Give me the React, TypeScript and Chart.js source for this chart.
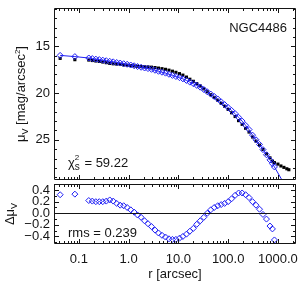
import React, { useEffect, useRef } from "react";
import { Chart, registerables } from "chart.js";

Chart.register(...registerables);

// ---- data ----
const radii = [
  0.042, 0.083, 0.158, 0.186, 0.219, 0.257, 0.302, 0.355, 0.417, 0.49, 0.575, 0.676, 0.794, 0.933,
  1.1, 1.29, 1.51, 1.78, 2.09, 2.45, 2.88, 3.39, 3.98, 4.68, 5.5, 6.46, 7.59, 8.91, 10.5, 12.3,
  14.5, 17.0, 20.0, 23.4, 27.5, 32.4, 38.0, 44.7, 52.5, 61.7, 72.4, 85.1, 100, 117, 138, 162, 191,
  224, 263, 309, 363, 427, 501, 589, 692, 776, 851,
];
const modelMu = [
  15.97, 16.1, 16.25, 16.31, 16.37, 16.42, 16.48, 16.54, 16.6, 16.66, 16.73, 16.79, 16.86, 16.92,
  17.0, 17.08, 17.16, 17.24, 17.32, 17.38, 17.46, 17.56, 17.67, 17.77, 17.87, 17.99, 18.11, 18.23,
  18.35, 18.48, 18.65, 18.83, 19.0, 19.18, 19.37, 19.62, 19.86, 20.11, 20.36, 20.63, 20.94, 21.24,
  21.55, 21.86, 22.2, 22.6, 23.0, 23.45, 23.9, 24.5, 25.0, 25.5, 26.05, 26.6, 27.15, 27.55, 27.9,
];
const observedMu = [
  16.29, 16.43, 16.47, 16.52, 16.57, 16.62, 16.68, 16.75, 16.83, 16.87, 16.9, 16.93, 16.99, 17.02,
  17.06, 17.1, 17.13, 17.17, 17.19, 17.2, 17.23, 17.27, 17.33, 17.39, 17.46, 17.55, 17.66, 17.78,
  17.92, 18.08, 18.29, 18.52, 18.74, 18.99, 19.24, 19.55, 19.86, 20.17, 20.46, 20.76, 21.09, 21.41,
  21.75, 22.11, 22.51, 22.95, 23.35, 23.77, 24.17, 24.7, 25.14, 25.57, 26.03, 26.5, 26.93, 27.28,
  27.44,
];
const residuals = [
  0.32, 0.33, 0.22, 0.21, 0.2, 0.2, 0.2, 0.21, 0.23, 0.21, 0.17, 0.14, 0.13, 0.1, 0.06, 0.02, -0.03,
  -0.07, -0.13, -0.18, -0.23, -0.29, -0.34, -0.38, -0.41, -0.44, -0.45, -0.45, -0.43, -0.4, -0.36,
  -0.31, -0.26, -0.19, -0.13, -0.07, 0.0, 0.06, 0.1, 0.13, 0.15, 0.17, 0.2, 0.25, 0.31, 0.35, 0.35,
  0.32, 0.27, 0.2, 0.14, 0.07, -0.02, -0.1, -0.22, -0.27, -0.46,
];
const outerRadii = [1000, 1150, 1320, 1510, 1660];
const outerObservedMu = [27.6, 27.8, 27.95, 28.1, 28.2];
const modelTailR = [1300];
const modelTailMu = [29.6];

const xTickValues = [0.1, 1, 10, 100, 1000];
const xTickLabels = ["0.1", "1.0", "10.0", "100.0", "1000.0"];
const muTickValues = [15, 20, 25];
const muTickLabels = ["15", "20", "25"];
const dTickValues = [0.4, 0.2, 0, -0.2, -0.4];
const dTickLabels = ["0.4", "0.2", "0.0", "\u22120.2", "\u22120.4"];
const galaxyName = "NGC4486";
const chi2Value = "59.22";
const rmsValue = "0.239";

const X_MIN = 0.0316;
const X_MAX = 2310;
const MU_MIN = 10.9;
const MU_MAX = 29.3;
const D_MIN = -0.53;
const D_MAX = 0.505;

const FONT = '"Liberation Sans", Arial, sans-serif';
const FG = "#151515";
const BLUE = "rgb(30,30,245)";

function labelFor(values: number[], labels: string[], v: number) {
  const i = values.findIndex((t) => Math.abs(t - v) < 1e-9 * Math.max(1, Math.abs(t)));
  return i >= 0 ? labels[i] : "";
}

function zeroPad(ax: any) {
  ax.paddingTop = 0;
  ax.paddingBottom = 0;
  ax.paddingLeft = 0;
  ax.paddingRight = 0;
}

function drawFrame(chart: any, yTicks: { v: number; major: boolean }[], zero: boolean) {
  const { ctx, chartArea: a, scales } = chart;
  const xs = scales.x;
  const ys = scales.y;
  ctx.save();
  ctx.strokeStyle = FG;
  ctx.lineWidth = 1;
  ctx.beginPath();
  ctx.rect(a.left + 0.5, a.top + 0.5, a.right - a.left - 1, a.bottom - a.top - 1);
  for (let e = -2; e <= 3; e++) {
    for (let k = 1; k <= 9; k++) {
      const v = k * Math.pow(10, e);
      if (v < X_MIN || v > X_MAX) continue;
      const px = Math.round(xs.getPixelForValue(v)) + 0.5;
      const len = k === 1 ? 5 : 3;
      ctx.moveTo(px, a.bottom);
      ctx.lineTo(px, a.bottom - len);
      ctx.moveTo(px, a.top);
      ctx.lineTo(px, a.top + len);
    }
  }
  for (const t of yTicks) {
    const py = Math.round(ys.getPixelForValue(t.v)) + 0.5;
    const len = t.major ? 5 : 3;
    ctx.moveTo(a.left, py);
    ctx.lineTo(a.left + len, py);
    ctx.moveTo(a.right, py);
    ctx.lineTo(a.right - len, py);
  }
  if (zero) {
    const pz = Math.round(ys.getPixelForValue(0)) + 0.5;
    ctx.moveTo(a.left, pz);
    ctx.lineTo(a.right, pz);
  }
  ctx.stroke();
  ctx.restore();
}

type Part = { t: string; size: number; dy: number };

// draws a rotated (bottom-to-top) rich label centred on (cx, cy)
function drawVerticalRich(ctx: CanvasRenderingContext2D, parts: Part[], cx: number, cy: number) {
  const widths: number[] = [];
  let w = 0;
  for (const p of parts) {
    ctx.font = `${p.size}px ${FONT}`;
    const m = ctx.measureText(p.t).width;
    widths.push(m);
    w += m;
  }
  ctx.save();
  ctx.textAlign = "left";
  ctx.textBaseline = "alphabetic";
  ctx.setTransform(0, -1, 1, 0, cx, cy);
  let x = -w / 2;
  parts.forEach((p, i) => {
    ctx.font = `${p.size}px ${FONT}`;
    ctx.fillText(p.t, x, p.dy);
    x += widths[i];
  });
  ctx.restore();
}

const muTicks: { v: number; major: boolean }[] = [];
for (let v = 11; v <= 29; v++) muTicks.push({ v, major: v % 5 === 0 });
const dTicks: { v: number; major: boolean }[] = [];
for (let i = -5; i <= 5; i++) dTicks.push({ v: i / 10, major: i % 2 === 0 });

const topPlugin = {
  id: "topDecor",
  afterDraw(chart: any) {
    drawFrame(chart, muTicks, false);
    const ctx: CanvasRenderingContext2D = chart.ctx;
    ctx.save();
    ctx.fillStyle = FG;
    ctx.textBaseline = "alphabetic";
    ctx.textAlign = "right";
    ctx.font = `13px ${FONT}`;
    ctx.fillText(galaxyName, 287, 32);
    ctx.textAlign = "left";
    ctx.font = `13px ${FONT}`;
    ctx.fillText("\u03c7", 68, 167);
    const cw = ctx.measureText("\u03c7").width;
    ctx.font = `8px ${FONT}`;
    ctx.fillText("2", 68 + cw, 160);
    ctx.font = `10px ${FONT}`;
    ctx.fillText("s", 68 + cw, 170);
    const sw = ctx.measureText("s").width;
    ctx.font = `13px ${FONT}`;
    ctx.fillText(" = " + chi2Value, 68 + cw + sw + 1, 167);
    drawVerticalRich(
      ctx,
      [
        { t: "\u03bc", size: 13, dy: 0 },
        { t: "V", size: 9, dy: 3 },
        { t: " [mag/arcsec", size: 13, dy: 0 },
        { t: "2", size: 8, dy: -5 },
        { t: "]", size: 13, dy: 0 },
      ],
      25,
      94
    );
    ctx.restore();
  },
};

const bottomPlugin = {
  id: "bottomDecor",
  afterDraw(chart: any) {
    drawFrame(chart, dTicks, true);
    const ctx: CanvasRenderingContext2D = chart.ctx;
    ctx.save();
    ctx.fillStyle = FG;
    ctx.textBaseline = "alphabetic";
    ctx.textAlign = "left";
    ctx.font = `13px ${FONT}`;
    ctx.fillText("rms = " + rmsValue, 68, 55);
    ctx.textAlign = "center";
    ctx.fillText("r [arcsec]", 175, 95.5);
    drawVerticalRich(
      ctx,
      [
        { t: "\u0394\u03bc", size: 13, dy: 0 },
        { t: "V", size: 9, dy: 3 },
      ],
      14,
      32
    );
    ctx.restore();
  },
};

export default function App() {
  const topRef = useRef<HTMLCanvasElement>(null);
  const botRef = useRef<HTMLCanvasElement>(null);

  useEffect(() => {
    const modelPts = radii.map((r, i) => ({ x: r, y: modelMu[i] }));
    const linePts = [...modelPts, ...modelTailR.map((r, i) => ({ x: r, y: modelTailMu[i] }))];
    const obsPts = [
      ...radii.map((r, i) => ({ x: r, y: observedMu[i] })),
      ...outerRadii.map((r, i) => ({ x: r, y: outerObservedMu[i] })),
    ];
    const resPts = radii.map((r, i) => ({ x: r, y: residuals[i] }));

    const top = new Chart(topRef.current!, {
      type: "scatter",
      data: {
        datasets: [
          {
            label: "model",
            data: modelPts,
            pointStyle: "rectRot",
            pointRadius: 3,
            borderColor: BLUE,
            backgroundColor: "rgba(0,0,0,0)",
            borderWidth: 1,
            order: 0,
          },
          {
            label: "model line",
            data: linePts,
            showLine: true,
            pointRadius: 0,
            borderColor: BLUE,
            borderWidth: 1,
            order: 1,
          },
          {
            label: "observed",
            data: obsPts,
            pointStyle: "rect",
            pointRadius: 2.2,
            backgroundColor: "#000",
            borderColor: "#000",
            borderWidth: 0,
            order: 2,
          },
        ],
      } as any,
      options: {
        animation: false,
        responsive: false,
        events: [],
        layout: { padding: { left: 0, right: 4, top: 8, bottom: 2 }, autoPadding: false },
        plugins: { legend: { display: false }, tooltip: { enabled: false } },
        scales: {
          x: {
            type: "logarithmic",
            min: X_MIN,
            max: X_MAX,
            display: false,
            afterFit: (ax: any) => {
              zeroPad(ax);
            },
          },
          y: {
            type: "linear",
            reverse: true,
            min: MU_MIN,
            max: MU_MAX,
            grid: { display: false, drawTicks: false },
            border: { display: false },
            afterBuildTicks: (ax: any) => {
              ax.ticks = muTickValues.map((v) => ({ value: v }));
            },
            afterFit: (ax: any) => {
              ax.width = 54;
              zeroPad(ax);
            },
            ticks: {
              padding: 4,
              autoSkip: false,
              color: FG,
              font: { size: 13, family: FONT },
              callback: (v: any) => labelFor(muTickValues, muTickLabels, Number(v)),
            },
          },
        },
      } as any,
      plugins: [topPlugin],
    });

    const bottom = new Chart(botRef.current!, {
      type: "scatter",
      data: {
        datasets: [
          {
            label: "residual",
            data: resPts,
            pointStyle: "rectRot",
            pointRadius: 3,
            borderColor: BLUE,
            backgroundColor: "rgba(0,0,0,0)",
            borderWidth: 1,
          },
        ],
      } as any,
      options: {
        animation: false,
        responsive: false,
        events: [],
        layout: { padding: { left: 0, right: 4, top: 2, bottom: 0 }, autoPadding: false },
        plugins: { legend: { display: false }, tooltip: { enabled: false } },
        scales: {
          x: {
            type: "logarithmic",
            min: X_MIN,
            max: X_MAX,
            grid: { display: false, drawTicks: false },
            border: { display: false },
            afterBuildTicks: (ax: any) => {
              ax.ticks = xTickValues.map((v) => ({ value: v }));
            },
            afterFit: (ax: any) => {
              ax.height = 41;
              zeroPad(ax);
            },
            ticks: {
              padding: 8,
              autoSkip: false,
              maxRotation: 0,
              color: FG,
              font: { size: 13, family: FONT },
              callback: (v: any) => labelFor(xTickValues, xTickLabels, Number(v)),
            },
          },
          y: {
            type: "linear",
            min: D_MIN,
            max: D_MAX,
            grid: { display: false, drawTicks: false },
            border: { display: false },
            afterBuildTicks: (ax: any) => {
              ax.ticks = dTickValues.map((v) => ({ value: v }));
            },
            afterFit: (ax: any) => {
              ax.width = 54;
              zeroPad(ax);
            },
            ticks: {
              padding: 4,
              autoSkip: false,
              color: FG,
              font: { size: 13, family: FONT },
              callback: (v: any) => labelFor(dTickValues, dTickLabels, Number(v)),
            },
          },
        },
      } as any,
      plugins: [bottomPlugin],
    });

    return () => {
      top.destroy();
      bottom.destroy();
    };
  }, []);

  return (
    <div
      style={{
        position: "absolute",
        left: 0,
        top: 0,
        width: 300,
        height: 285,
        background: "#fff",
        overflow: "hidden",
      }}
    >
      <canvas
        ref={topRef}
        width={300}
        height={182}
        style={{ position: "absolute", left: 0, top: 0, width: 300, height: 182 }}
      />
      <canvas
        ref={botRef}
        width={300}
        height={103}
        style={{ position: "absolute", left: 0, top: 182, width: 300, height: 103 }}
      />
    </div>
  );
}
